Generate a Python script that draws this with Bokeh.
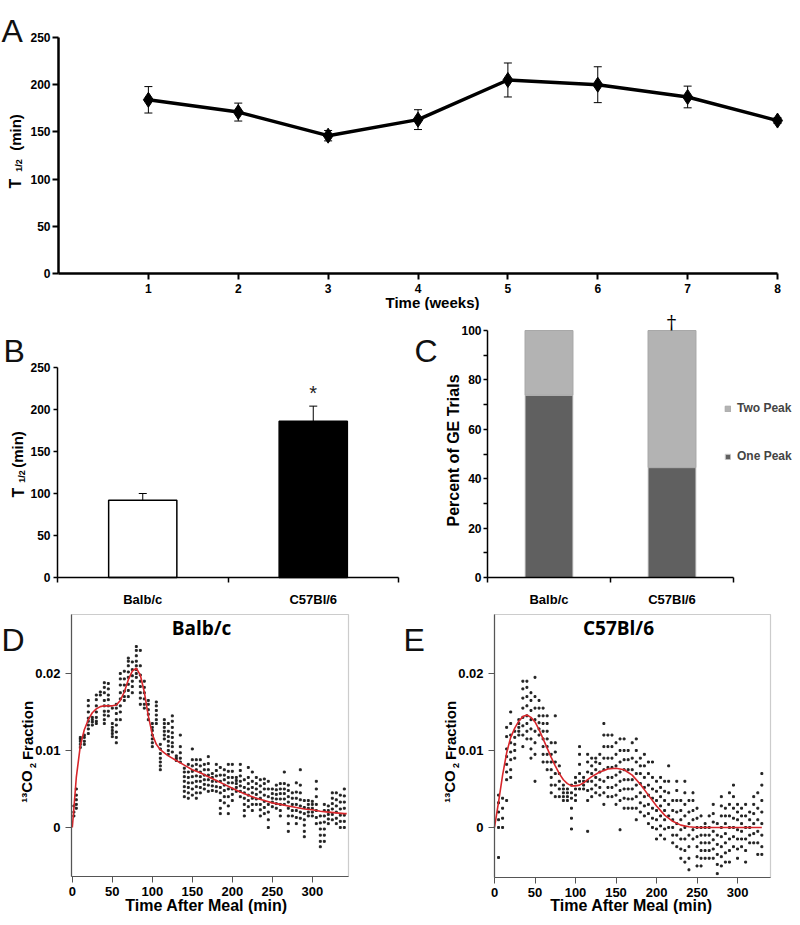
import math
from bokeh.plotting import figure
from bokeh.models import (Range1d, FixedTicker, Label, Whisker, TeeHead, BoxAnnotation,
                          ColumnDataSource, Legend, LegendItem)
from bokeh.layouts import column, row
from bokeh.embed import file_html
from bokeh.resources import INLINE
from bokeh.core.properties import value

# ---------------- data ----------------
# Panel A: weekly gastric emptying half-time
weeks = [1, 2, 3, 4, 5, 6, 7, 8]
t_half_weekly = [184, 171, 146, 163, 205, 200, 187, 162]
t_half_weekly_sem = [14, 9.5, 5.5, 10.5, 18, 19, 11.5, 3]
week_ticks = [1, 2, 3, 4, 5, 6, 7, 8]
t_half_ticks = [0, 50, 100, 150, 200, 250]

# Panel B: strain half-time
strains = ["Balb/c", "C57Bl/6"]
t_half_strain = [92, 186]
t_half_strain_sem = [8, 18]
strain_fill = ["white", "black"]

# Panel C: percent of GE trials
one_peak_pct = [73.8, 44.5]
two_peak_pct = [26.2, 55.5]
pct_ticks = [0, 20, 40, 60, 80, 100]
pct_minor = [10, 30, 50, 70, 90]

# Panel D: Balb/c 13CO2 breath data (columns of points) and fit
balb_fit_t = [0, 2, 5, 10, 15, 20, 25, 30, 35, 40, 45, 50, 55, 60, 65, 70, 75, 80, 85,
              90, 95, 100, 105, 110, 115, 120, 130, 140, 150, 160, 170, 180, 190, 200,
              210, 220, 230, 240, 250, 260, 270, 280, 290, 300, 310, 320, 330, 340, 343]
balb_fit_v = [0.0, 0.0025, 0.0065, 0.0106, 0.0127, 0.014, 0.0149, 0.0154, 0.0157, 0.0158,
              0.0158, 0.0158, 0.0159, 0.0165, 0.0176, 0.0192, 0.0203, 0.0207, 0.0198,
              0.0176, 0.0145, 0.0121, 0.0108, 0.0101, 0.0097, 0.0093, 0.0087, 0.0081,
              0.0075, 0.0071, 0.0066, 0.0061, 0.0056, 0.0051, 0.0046, 0.0042, 0.0038,
              0.0035, 0.0032, 0.003, 0.0028, 0.0026, 0.0024, 0.0023, 0.0021, 0.002,
              0.0019, 0.0018, 0.0018]
balb_obs_t = [2, 5, 10, 15, 20, 25, 30, 35, 40, 45, 50, 55, 60, 65, 70, 75, 80, 85, 90, 95,
              100, 105, 110, 115, 120, 125, 130, 135, 140, 145, 150, 155, 160, 165, 170,
              175, 180, 185, 190, 195, 200, 205, 210, 215, 220, 225, 230, 235, 240, 245,
              250, 255, 260, 265, 270, 275, 280, 285, 290, 295, 300, 305, 310, 315, 320,
              325, 330, 335, 340]
balb_obs_v = [
    [0.0015, 0.002, 0.0028],
    [0.0025, 0.003, 0.0036, 0.0042, 0.005],
    [0.0104, 0.0108, 0.0112, 0.0115, 0.0117],
    [0.0108, 0.0112, 0.0117, 0.012],
    [0.0122, 0.0128, 0.0133, 0.0138, 0.0142, 0.015, 0.0158, 0.0165],
    [0.0133, 0.0137, 0.014, 0.0143],
    [0.0135, 0.0138, 0.0143, 0.015, 0.0158, 0.0166, 0.0172],
    [0.0172, 0.0176],
    [0.0135, 0.014, 0.0146, 0.0151, 0.0158, 0.0165, 0.0175, 0.0182, 0.0188],
    [0.0145, 0.0151, 0.0158, 0.0166, 0.0172, 0.018, 0.0187],
    [0.0118, 0.0122, 0.0126, 0.013, 0.0135, 0.0155],
    [0.011, 0.0117, 0.0124, 0.0133, 0.014, 0.0148, 0.0155, 0.016],
    [0.014, 0.015, 0.0158, 0.0167, 0.0175, 0.0185, 0.0193, 0.02],
    [0.0165, 0.017, 0.0177, 0.0185, 0.0193, 0.0203],
    [0.017, 0.0178, 0.0186, 0.0195, 0.0202, 0.021, 0.0216, 0.022],
    [0.0175, 0.0183, 0.019, 0.0197, 0.0205, 0.0215],
    [0.0195, 0.02, 0.0205, 0.021, 0.0216, 0.0223, 0.023, 0.0235],
    [0.016, 0.0168, 0.0175, 0.0183, 0.019, 0.0198, 0.021, 0.023],
    [0.0155, 0.016, 0.0167, 0.0175, 0.0182, 0.019],
    [0.014, 0.0147, 0.0153, 0.016, 0.0165],
    [0.0105, 0.011, 0.0115, 0.012, 0.0126, 0.013, 0.0135],
    [0.0135, 0.014, 0.0146, 0.0152, 0.0158, 0.0163],
    [0.0075, 0.008, 0.0085, 0.009, 0.0096, 0.0102, 0.0108],
    [0.0115, 0.012, 0.0125, 0.013, 0.0135, 0.014],
    [0.0095, 0.01, 0.0106, 0.0112, 0.0118, 0.0125, 0.0135],
    [0.0098, 0.0105, 0.011, 0.0117, 0.0123, 0.013, 0.0138, 0.0145],
    [0.0087, 0.009, 0.0093],
    [0.0085, 0.009, 0.0097, 0.0105, 0.012],
    [0.004, 0.0047, 0.0053, 0.006, 0.0066, 0.0072, 0.0077],
    [0.0038, 0.0045, 0.0052, 0.0058, 0.0065, 0.0072, 0.0082],
    [0.0042, 0.005, 0.0058, 0.0066, 0.0073, 0.008, 0.0088, 0.0102],
    [0.0038, 0.0045, 0.0053, 0.006, 0.0067, 0.0075, 0.0082, 0.0088],
    [0.0045, 0.0052, 0.006, 0.0066, 0.0072, 0.008, 0.0088],
    [0.005, 0.0056, 0.0062, 0.0068, 0.0075, 0.0082],
    [0.0047, 0.0055, 0.0062, 0.0068, 0.0075, 0.0083, 0.0092],
    [0.0048, 0.0054, 0.006, 0.0065, 0.007],
    [0.0047, 0.0053, 0.006, 0.0067, 0.0074, 0.0082],
    [0.0018, 0.0025, 0.0035, 0.0045, 0.0052, 0.006, 0.0068, 0.0078],
    [0.0032, 0.004, 0.0048, 0.0055, 0.0062, 0.0068, 0.0075],
    [0.0018, 0.0028, 0.004, 0.005, 0.0058, 0.0065, 0.0073, 0.0082],
    [0.0035, 0.0043, 0.005, 0.0058, 0.0065, 0.0073, 0.0082],
    [0.0047, 0.0052, 0.0057, 0.0061, 0.0065],
    [0.004, 0.0047, 0.0054, 0.006, 0.0067, 0.0074, 0.0082],
    [0.0015, 0.0022, 0.003, 0.0038, 0.0045, 0.0052, 0.0062],
    [0.0027, 0.0035, 0.0042, 0.005, 0.0057, 0.0065, 0.0078],
    [0.0022, 0.003, 0.0038, 0.0045, 0.0052, 0.006, 0.0072],
    [0.003, 0.0037, 0.0043, 0.005, 0.0057, 0.0065],
    [0.0015, 0.0023, 0.003, 0.0038, 0.0046, 0.0054, 0.0062],
    [0.0018, 0.0026, 0.0034, 0.0042, 0.005, 0.0057, 0.0063],
    [0.0, 0.001, 0.002, 0.003, 0.004, 0.005, 0.006],
    [0.0027, 0.0033, 0.0038, 0.0044, 0.005],
    [0.0025, 0.0031, 0.0037, 0.0043, 0.0049, 0.0055],
    [0.0015, 0.0022, 0.003, 0.0037, 0.0044, 0.005, 0.0057],
    [0.003, 0.0037, 0.0044, 0.005, 0.0057, 0.0072],
    [-0.0005, 0.0005, 0.0015, 0.0025, 0.0033, 0.004, 0.0048, 0.0055],
    [0.0015, 0.0022, 0.003, 0.0038, 0.0045],
    [0.0005, 0.0013, 0.0022, 0.003, 0.0038, 0.0046, 0.0058],
    [0.0012, 0.002, 0.0028, 0.0036, 0.0045, 0.0055, 0.0075],
    [-0.0012, -0.0005, 0.0003, 0.001, 0.0018, 0.0026, 0.0035],
    [0.0015, 0.002, 0.0025, 0.003, 0.0035],
    [0.0015, 0.002, 0.0025, 0.003, 0.0034],
    [0.0005, 0.0013, 0.0022, 0.003, 0.004, 0.005, 0.006],
    [-0.0025, -0.0018, -0.001, -0.0002, 0.0006, 0.0015],
    [-0.0018, -0.001, -0.0002, 0.0007, 0.0015, 0.0022, 0.003],
    [0.0005, 0.0011, 0.0017, 0.0022, 0.0028],
    [0.001, 0.0017, 0.0024, 0.0031, 0.0038, 0.0045],
    [0.0005, 0.0012, 0.002, 0.0028, 0.0036, 0.0045],
    [0.0, 0.0008, 0.0016, 0.0024, 0.0033, 0.0042],
    [0.0, 0.0008, 0.0016, 0.0025, 0.0033, 0.0041, 0.005],
]

# Panel E: C57Bl/6 13CO2 breath data and fit
c57_fit_t = [0, 5, 10, 15, 20, 25, 30, 35, 40, 45, 50, 55, 60, 65, 70, 75, 80, 85, 90, 95,
             100, 105, 110, 115, 120, 130, 140, 150, 160, 170, 180, 190, 200, 210, 220,
             230, 240, 250, 270, 290, 310, 330]
c57_fit_v = [0.0, 0.0033, 0.0068, 0.0097, 0.0117, 0.0129, 0.0138, 0.0144, 0.0146, 0.0143,
             0.0137, 0.0127, 0.0115, 0.0103, 0.0091, 0.008, 0.007, 0.0062, 0.0057, 0.0054,
             0.0054, 0.0055, 0.0058, 0.0062, 0.0066, 0.0072, 0.0076, 0.0077, 0.0075,
             0.0068, 0.0056, 0.0042, 0.0028, 0.0016, 0.0008, 0.0003, 0.0001, 0.0, 0.0,
             0.0, 0.0, 0.0]
c57_obs_t = [5, 10, 15, 20, 25, 30, 35, 40, 45, 50, 55, 60, 65, 70, 75, 80, 85, 90, 95, 100,
             105, 110, 115, 120, 125, 130, 135, 140, 145, 150, 155, 160, 165, 170, 175, 180,
             185, 190, 195, 200, 205, 210, 215, 220, 225, 230, 235, 240, 245, 250, 255,
             260, 265, 270, 275, 280, 285, 290, 295, 300, 305, 310, 315, 320, 325, 330]
c57_obs_v = [
    [-0.0039, 0.0, 0.001, 0.002, 0.0032, 0.0042],
    [0.0, 0.0012, 0.0025, 0.0038],
    [0.0035, 0.0062, 0.0072, 0.0082, 0.0092, 0.0102, 0.0118, 0.013],
    [0.0065, 0.0075, 0.0088, 0.0098, 0.011, 0.012, 0.0135, 0.015],
    [0.009, 0.01, 0.0108, 0.0117, 0.0125],
    [0.012, 0.0125, 0.013, 0.0135, 0.014],
    [0.0105, 0.012, 0.0132, 0.0143, 0.0155, 0.0168, 0.018, 0.019],
    [0.0115, 0.0125, 0.0135, 0.0145, 0.0158, 0.017, 0.0182, 0.019],
    [0.009, 0.0102, 0.0115, 0.0128, 0.014, 0.0152, 0.0165, 0.0175],
    [0.006, 0.0095, 0.011, 0.0125, 0.014, 0.0155, 0.017, 0.0195],
    [0.012, 0.0128, 0.0136, 0.0145, 0.0155, 0.0165],
    [0.0085, 0.0095, 0.0105, 0.0115, 0.0125, 0.0135, 0.0145, 0.0155],
    [0.0075, 0.0085, 0.0095, 0.0105, 0.0115, 0.0125, 0.0135, 0.0145],
    [0.0045, 0.0055, 0.0065, 0.0075, 0.0085, 0.0095, 0.011],
    [0.004, 0.0055, 0.007, 0.0085, 0.0098, 0.011, 0.0145],
    [0.004, 0.005, 0.006, 0.007, 0.008],
    [0.0035, 0.004, 0.0045, 0.005, 0.0055],
    [0.0035, 0.004, 0.0045, 0.005],
    [-0.0002, 0.0012, 0.0025, 0.0038, 0.0045, 0.0055],
    [0.0035, 0.0042, 0.005, 0.0058, 0.0065],
    [0.005, 0.006, 0.007, 0.0082, 0.0095, 0.0105],
    [0.005, 0.0055, 0.006, 0.0065],
    [-0.0005, 0.0035, 0.0048, 0.006, 0.0072, 0.0085, 0.0095],
    [0.004, 0.005, 0.006, 0.007, 0.008, 0.009],
    [0.0045, 0.0055, 0.0065, 0.0075, 0.0085, 0.009],
    [0.0042, 0.0052, 0.0062, 0.0072, 0.0083, 0.0095],
    [0.003, 0.0045, 0.006, 0.0075, 0.009, 0.0105, 0.012, 0.0135],
    [0.004, 0.0052, 0.0065, 0.0078, 0.009, 0.0105, 0.012],
    [0.004, 0.0052, 0.0065, 0.0078, 0.009, 0.0105, 0.012],
    [0.003, 0.0042, 0.0055, 0.0068, 0.008, 0.0095, 0.011],
    [-0.0003, 0.0035, 0.0048, 0.006, 0.0072, 0.0085, 0.01, 0.0115],
    [0.0025, 0.0038, 0.005, 0.0062, 0.0075, 0.0088, 0.01, 0.0115],
    [0.0025, 0.0037, 0.005, 0.0062, 0.0075, 0.0088, 0.01],
    [0.0025, 0.0037, 0.005, 0.0062, 0.0075, 0.009, 0.011],
    [0.001, 0.0025, 0.004, 0.0055, 0.007, 0.0085, 0.01, 0.0115],
    [0.002, 0.0032, 0.0045, 0.0057, 0.007, 0.008, 0.009],
    [0.0015, 0.0028, 0.004, 0.0052, 0.0065, 0.008, 0.0095],
    [0.0005, 0.0018, 0.003, 0.0042, 0.0055, 0.007, 0.0085],
    [0.0, 0.0012, 0.0025, 0.0038, 0.005, 0.0065, 0.0085],
    [-0.0015, -0.0002, 0.001, 0.0022, 0.0035, 0.0047, 0.006],
    [-0.001, 0.0002, 0.0015, 0.0028, 0.004, 0.0052, 0.0065],
    [-0.0015, -0.0002, 0.001, 0.0022, 0.0035, 0.0047, 0.006],
    [0.0, 0.0015, 0.003, 0.0045, 0.006, 0.008],
    [-0.002, -0.001, 0.0, 0.001, 0.0022, 0.0035],
    [-0.0025, -0.001, 0.0005, 0.002, 0.0035, 0.0048, 0.006],
    [-0.004, -0.0028, -0.0015, -0.0003, 0.001, 0.0022, 0.0035],
    [-0.0045, -0.003, -0.0015, 0.0, 0.0015, 0.003, 0.0045, 0.006],
    [-0.0055, -0.004, -0.0025, -0.001, 0.0005, 0.002, 0.0035],
    [-0.0015, -0.0003, 0.001, 0.0022, 0.0035, 0.0045],
    [-0.005, -0.0038, -0.0025, -0.0012, 0.0, 0.0012, 0.0025],
    [-0.005, -0.004, -0.003, -0.002, -0.001, 0.0, 0.0015],
    [-0.004, -0.003, -0.002, -0.001, 0.0, 0.0005],
    [-0.004, -0.003, -0.002, -0.001, 0.0, 0.0015],
    [-0.004, -0.0028, -0.0016, -0.0005, 0.0007, 0.0018, 0.003],
    [-0.006, -0.0048, -0.0035, -0.0022, -0.001, 0.0005],
    [-0.005, -0.0038, -0.0025, -0.0012, 0.0, 0.0015, 0.0028, 0.004],
    [-0.0045, -0.0033, -0.002, -0.0008, 0.0005, 0.0015, 0.0025],
    [-0.0045, -0.003, -0.0015, 0.0, 0.0015, 0.003, 0.0045],
    [-0.0025, -0.0012, 0.0, 0.0012, 0.0025, 0.004, 0.0055],
    [-0.004, -0.0028, -0.0015, -0.0003, 0.001, 0.002, 0.003],
    [-0.0025, -0.0015, -0.0005, 0.0005, 0.0015, 0.0025],
    [-0.0045, -0.003, -0.0015, 0.0, 0.0015, 0.003],
    [-0.002, -0.001, 0.0, 0.001, 0.002],
    [-0.002, -0.0008, 0.0005, 0.0018, 0.003, 0.004],
    [-0.0035, -0.002, -0.0005, 0.001, 0.0025, 0.0045],
    [-0.0035, -0.0025, -0.001, 0.0005, 0.002, 0.0035, 0.0055, 0.007],
]
breath_x_ticks = [0, 50, 100, 150, 200, 250, 300]
breath_y_ticks = [0, 0.01, 0.02]

# ---------------- styling helpers ----------------
TF = "Liberation Sans"
LETTER_FONT = "Liberation Sans"
V = math.pi / 2


class Frame:
    def __init__(self, left, bottom):
        self.left = left
        self.bottom = bottom


def geo_fig(fig_left, fig_top, w, h, px_x0, px_x1, x0, x1, px_y0, px_y1, y0, y1):
    """Figure whose plotting frame covers the whole canvas; data box x0..x1 / y0..y1
    lands on page pixels px_x0..px_x1 / px_y0 (bottom) .. px_y1 (top)."""
    kx = (px_x1 - px_x0) / (x1 - x0)
    xs = x0 - (px_x0 - fig_left) / kx
    xe = x1 + (fig_left + w - px_x1) / kx
    ky = (px_y0 - px_y1) / (y1 - y0)
    ys = y0 - (fig_top + h - px_y0) / ky
    ye = y1 + (px_y1 - fig_top) / ky
    p = figure(width=w, height=h, x_range=Range1d(xs, xe), y_range=Range1d(ys, ye),
               output_backend="svg", toolbar_location=None, title=None, min_border=0)
    p.xgrid.visible = False
    p.ygrid.visible = False
    p.outline_line_color = None
    p.background_fill_color = "white"
    p.border_fill_color = "white"
    p.yaxis.fixed_location = x0
    p.yaxis.bounds = (y0, y1)
    p.xaxis.fixed_location = y0
    p.xaxis.bounds = (x0, x1)
    for ax in (p.xaxis, p.yaxis):
        ax.major_label_text_font = TF
        ax.major_label_text_font_style = "bold"
        ax.major_label_text_color = "black"
        ax.axis_line_color = "black"
        ax.major_tick_line_color = "black"
        ax.minor_tick_line_color = None
        ax.major_tick_in = 0
    return p, Frame(fig_left, fig_top + h)


def put(p, fr, px, py, text, size, bold=True, font=TF, angle=0.0,
        align="center", baseline="middle", color="black"):
    p.add_layout(Label(x=px - fr.left, y=fr.bottom - py, x_units="screen",
                       y_units="screen", text=text, text_font=font,
                       text_font_size=f"{size}px",
                       text_font_style="bold" if bold else "normal",
                       angle=angle, text_align=align, text_baseline=baseline,
                       text_color=color))


def letter(p, fr, px, py_base, text):
    put(p, fr, px, py_base, text, 32, bold=False, font=LETTER_FONT,
        align="left", baseline="alphabetic", color="#111111")


# ---------------- Panel A ----------------
pa, fa = geo_fig(0, 0, 800, 310, 58, 777, 0, 8, 273, 37, 0, 250)
pa.xaxis.ticker = FixedTicker(ticks=week_ticks)
pa.yaxis.ticker = FixedTicker(ticks=t_half_ticks)
for ax in (pa.xaxis, pa.yaxis):
    ax.axis_line_width = 2.5
    ax.major_tick_line_width = 2
    ax.major_tick_out = 6
    ax.major_label_text_font_size = "12px"
pa.xaxis.major_label_standoff = 4
pa.yaxis.major_label_standoff = 2
src_a = ColumnDataSource(dict(
    x=weeks, y=t_half_weekly,
    upper=[v + e for v, e in zip(t_half_weekly, t_half_weekly_sem)],
    lower=[v - e for v, e in zip(t_half_weekly, t_half_weekly_sem)]))
pa.add_layout(Whisker(base="x", upper="upper", lower="lower", source=src_a,
                      line_color="black", line_width=1,
                      upper_head=TeeHead(size=8, line_width=1, line_color="black"),
                      lower_head=TeeHead(size=8, line_width=1, line_color="black")))
pa.line("x", "y", source=src_a, line_color="black", line_width=3.5)
pa.scatter("x", "y", source=src_a, marker="diamond", size=15, color="black")
letter(pa, fa, 1, 30, "A")
put(pa, fa, 432, 302, "Time (weeks)", 15)
put(pa, fa, 15, 183, "T", 16, angle=V)
put(pa, fa, 18, 165, "1/2", 9, angle=V)
put(pa, fa, 15, 132, "(min)", 15, angle=V)

# ---------------- Panel B ----------------
centers = [i + 0.5 for i in range(len(strains))]
pb, fb = geo_fig(0, 310, 400, 295, 57, 398, 0, 2, 577, 367, 0, 250)
pb.xaxis.ticker = FixedTicker(ticks=centers, minor_ticks=[0, 1, 2])
pb.xaxis.major_label_overrides = {c: s for c, s in zip(centers, strains)}
pb.xaxis.major_tick_out = 0
pb.xaxis.minor_tick_line_color = "black"
pb.xaxis.minor_tick_out = 5
pb.xaxis.minor_tick_in = 0
pb.xaxis.major_label_text_font_size = "13px"
pb.xaxis.major_label_standoff = 9
pb.yaxis.ticker = FixedTicker(ticks=t_half_ticks)
pb.yaxis.major_label_text_font_size = "12px"
pb.yaxis.major_tick_out = 4
pb.yaxis.major_label_standoff = 3
for ax in (pb.xaxis, pb.yaxis):
    ax.axis_line_width = 1.5
    ax.major_tick_line_width = 1.5
    ax.minor_tick_line_width = 1.5
src_b = ColumnDataSource(dict(
    x=centers, top=t_half_strain, fill=strain_fill,
    upper=[v + e for v, e in zip(t_half_strain, t_half_strain_sem)]))
pb.add_layout(Whisker(base="x", upper="upper", lower="top", source=src_b,
                      line_color="black", line_width=1,
                      upper_head=TeeHead(size=8, line_width=1, line_color="black"),
                      lower_head=None))
pb.vbar(x="x", top="top", width=0.4, source=src_b, fill_color="fill",
        line_color="black", line_width=1.5)
pb.text(x=[centers[1]], y=[t_half_strain[1] + t_half_strain_sem[1] + 16], text=["*"],
        text_font=value(TF), text_font_size="20px", text_align="center",
        text_baseline="middle", text_color="#222222")
letter(pb, fb, 3, 350, "B")
put(pb, fb, 18, 492, "T", 16, angle=V)
put(pb, fb, 21, 476, "1/2", 9, angle=V)
put(pb, fb, 17, 449, "(min)", 15, angle=V)

# ---------------- Panel C ----------------
pc, fc = geo_fig(400, 310, 400, 295, 487, 733, 0, 2, 577, 330, 0, 100)
pc.xaxis.ticker = FixedTicker(ticks=centers, minor_ticks=[0, 1, 2])
pc.xaxis.major_label_overrides = {c: s for c, s in zip(centers, strains)}
pc.xaxis.major_tick_out = 0
pc.xaxis.minor_tick_line_color = "black"
pc.xaxis.minor_tick_out = 5
pc.xaxis.minor_tick_in = 0
pc.xaxis.major_label_text_font_size = "13px"
pc.xaxis.major_label_standoff = 9
pc.yaxis.ticker = FixedTicker(ticks=pct_ticks, minor_ticks=pct_minor)
pc.yaxis.minor_tick_line_color = "black"
pc.yaxis.minor_tick_out = 4
pc.yaxis.minor_tick_in = 0
pc.yaxis.major_tick_out = 4
pc.yaxis.major_label_text_font_size = "12px"
pc.yaxis.major_label_standoff = 2
for ax in (pc.xaxis, pc.yaxis):
    ax.axis_line_width = 1.5
    ax.major_tick_line_width = 1.5
    ax.minor_tick_line_width = 1.5
src_c = ColumnDataSource(dict(x=centers, one=one_peak_pct, two=two_peak_pct))
r_one, r_two = pc.vbar_stack(["one", "two"], x="x", width=0.39, source=src_c,
                             fill_color=["#606060", "#b3b3b3"],
                             line_color=["#d8d8d8", "#a8a8a8"], line_width=1)
legend = Legend(items=[LegendItem(label="Two Peak", renderers=[r_two]),
                       LegendItem(label="One Peak", renderers=[r_one])],
                location=(324, 142), orientation="vertical",
                glyph_width=7, glyph_height=7, label_height=14, spacing=34,
                label_standoff=6, padding=0, margin=0,
                border_line_color=None, background_fill_alpha=0,
                label_text_font=TF, label_text_font_style="bold",
                label_text_font_size="12px")
pc.add_layout(legend)
put(pc, fc, 671, 321, "\u2020", 19, bold=False, font="DejaVu Serif")
letter(pc, fc, 414, 350, "C")
put(pc, fc, 453, 450, "Percent of GE Trials", 16, angle=V)


# ---------------- Panels D and E ----------------
def breath_panel(fig_left, px_x0, px_x1, x0, x1, px_y0, y0, y1):
    p, fr = geo_fig(fig_left, 605, 400, 318, px_x0, px_x1, x0, x1, px_y0, 614, y0, y1)
    p.add_layout(BoxAnnotation(left=x0, right=x1, bottom=y0, top=y1, fill_alpha=0,
                               line_color="#555555", line_width=1.2))
    p.xaxis.ticker = FixedTicker(ticks=breath_x_ticks)
    p.yaxis.ticker = FixedTicker(ticks=breath_y_ticks)
    p.yaxis.major_label_overrides = {0: "0", 0.01: "0.01", 0.02: "0.02"}
    for ax in (p.xaxis, p.yaxis):
        ax.axis_line_color = "#555555"
        ax.axis_line_width = 1.2
        ax.major_tick_line_color = "#555555"
        ax.major_tick_out = 6
        ax.major_label_text_font_size = "13px"
    p.xaxis.major_label_standoff = 4
    p.yaxis.major_label_standoff = 5
    return p, fr


def flat(ts, cols):
    xs, ys = [], []
    for t, col in zip(ts, cols):
        for v in col:
            xs.append(t)
            ys.append(v)
    return xs, ys


pd_, fd = breath_panel(0, 71, 348, -1, 345.25, 876, -0.006364, 0.027662)
bx, by = flat(balb_obs_t, balb_obs_v)
pd_.scatter(bx, by, marker="square", size=1.9, color="#222222")
pd_.line(balb_fit_t, balb_fit_v, line_color="#d8262b", line_width=1.6)
put(pd_, fd, 201, 627, "Balb/c", 19, font="Open Sans")
put(pd_, fd, 206, 905, "Time After Meal (min)", 16)
letter(pd_, fd, 1, 639, "D")
put(pd_, fd, 26, 786, "\u00b9\u00b3CO", 15, angle=V)
put(pd_, fd, 32, 765, "2", 9, angle=V)
put(pd_, fd, 27, 730, "Fraction", 15, angle=V)

pe, fe = breath_panel(400, 494, 770, 0, 340.7, 877, -0.0065, 0.027662)
cx, cy = flat(c57_obs_t, c57_obs_v)
pe.scatter(cx, cy, marker="square", size=1.9, color="#222222")
pe.line(c57_fit_t, c57_fit_v, line_color="#d8262b", line_width=1.6)
put(pe, fe, 618, 627, "C57Bl/6", 19, font="Open Sans")
put(pe, fe, 631, 905, "Time After Meal (min)", 16)
letter(pe, fe, 403, 639, "E")
put(pe, fe, 449, 786, "\u00b9\u00b3CO", 15, angle=V)
put(pe, fe, 455, 765, "2", 9, angle=V)
put(pe, fe, 450, 730, "Fraction", 15, angle=V)

layout = column(pa, row(pb, pc), row(pd_, pe))
open("out.html", "w").write(file_html(layout, INLINE))
